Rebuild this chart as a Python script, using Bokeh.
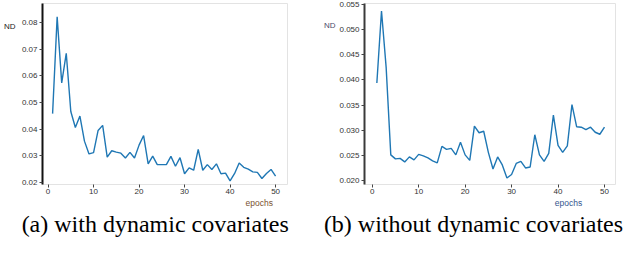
from bokeh.plotting import figure
from bokeh.layouts import row
from bokeh.models import (Range1d, FixedTicker, PrintfTickFormatter, LinearAxis,
                          ColumnDataSource)
from bokeh.embed import file_html
from bokeh.resources import INLINE

# ---------------- data ----------------
epochs = list(range(1, 51))
nd_with_dynamic = [
    0.0458, 0.0821, 0.0573, 0.0684, 0.0466, 0.0406, 0.0449, 0.0355, 0.0307, 0.0312,
    0.0395, 0.0414, 0.0295, 0.0319, 0.0314, 0.0310, 0.0292, 0.0313, 0.0292, 0.0340,
    0.0376, 0.0270, 0.0299, 0.0267, 0.0267, 0.0267, 0.0298, 0.0261, 0.0293, 0.0233,
    0.0255, 0.0246, 0.0324, 0.0246, 0.0267, 0.0249, 0.0270, 0.0233, 0.0235, 0.0206,
    0.0234, 0.0273, 0.0257, 0.0250, 0.0240, 0.0238, 0.0215, 0.0234, 0.0249, 0.0224,
]
nd_without_dynamic = [
    0.0394, 0.0537, 0.0425, 0.0251, 0.0243, 0.0244, 0.0237, 0.0247, 0.0241, 0.0252,
    0.0249, 0.0245, 0.0239, 0.0235, 0.0268, 0.0262, 0.0264, 0.0251, 0.0276, 0.0251,
    0.0240, 0.0308, 0.0295, 0.0298, 0.0256, 0.0223, 0.0247, 0.0231, 0.0205, 0.0212,
    0.0234, 0.0238, 0.0225, 0.0227, 0.0291, 0.0251, 0.0238, 0.0254, 0.0330, 0.0270,
    0.0256, 0.0269, 0.0351, 0.0307, 0.0306, 0.0301, 0.0306, 0.0296, 0.0292, 0.0306,
]
x_ticks = [0, 10, 20, 30, 40, 50]
y_ticks_a = [0.02, 0.03, 0.04, 0.05, 0.06, 0.07, 0.08]
y_ticks_b = [0.020, 0.025, 0.030, 0.035, 0.040, 0.045, 0.050, 0.055]
caption_a = "(a) with dynamic covariates"
caption_b = "(b) without dynamic covariates"
y_label = "ND"
x_label = "epochs"

LINE = "#1f77b4"
TICK_FONT = "Liberation Sans"
PLOT_H = 239
FRAME_T, FRAME_B = 3, 186    # both plot frames (a row shares them)


def text_axis(pos, text, font, size, color, standoff):
    """An axis that shows no line and no tick mark, only one text at a chosen place."""
    ax = LinearAxis(ticker=FixedTicker(ticks=[pos]), major_label_overrides={pos: text})
    ax.axis_line_color = None
    ax.major_tick_line_color = None
    ax.minor_tick_line_color = None
    ax.major_tick_out = 0
    ax.major_tick_in = 0
    ax.major_label_standoff = standoff
    ax.major_label_text_font = font
    ax.major_label_text_font_size = size
    ax.major_label_text_color = color
    return ax


def make_panel(x0, width, fl, fr, xr, yr, yticks, yfmt, spine_color,
               nd_y, nd_std, ep_x, ep_color, nd_color, cap_x, caption, values):
    p = figure(width=width, height=PLOT_H, output_backend="svg", toolbar_location=None,
               x_range=Range1d(*xr), y_range=Range1d(*yr),
               min_border_left=fl - x0, min_border_right=x0 + width - fr,
               min_border_top=FRAME_T, min_border_bottom=PLOT_H - FRAME_B)
    p.background_fill_color = "white"
    p.border_fill_color = "white"
    p.outline_line_color = "#e3e3e3"
    p.outline_line_width = 1
    p.xgrid.visible = False
    p.ygrid.visible = False

    src = ColumnDataSource(dict(x=epochs, y=values))
    p.line("x", "y", source=src, line_color=LINE, line_width=1.4)

    p.xaxis.ticker = FixedTicker(ticks=x_ticks)
    p.xaxis.axis_line_color = None
    p.xaxis.major_tick_line_color = "#444444"
    p.xaxis.major_tick_out = 3
    p.xaxis.major_tick_in = 0
    p.xaxis.minor_tick_line_color = None
    p.xaxis.major_label_text_font = TICK_FONT
    p.xaxis.major_label_text_font_size = "8px"
    p.xaxis.major_label_text_color = "#333333"
    p.xaxis.major_label_standoff = 1

    p.yaxis.ticker = FixedTicker(ticks=yticks)
    p.yaxis.formatter = PrintfTickFormatter(format=yfmt)
    p.yaxis.axis_line_color = spine_color
    p.yaxis.axis_line_width = 2
    p.yaxis.major_tick_line_color = "#444444"
    p.yaxis.major_tick_out = 3
    p.yaxis.major_tick_in = 0
    p.yaxis.minor_tick_line_color = None
    p.yaxis.major_label_text_font = TICK_FONT
    p.yaxis.major_label_text_font_size = "8px"
    p.yaxis.major_label_text_color = "#333333"
    p.yaxis.major_label_standoff = 2

    def dx(px):
        return round(xr[0] + (px - fl) / (fr - fl) * (xr[1] - xr[0]), 4)

    def dy(py):
        return round(yr[1] - (py - FRAME_T) / (FRAME_B - FRAME_T) * (yr[1] - yr[0]), 6)

    p.add_layout(text_axis(dy(nd_y), y_label, TICK_FONT, "8px", nd_color, nd_std), "left")
    p.add_layout(text_axis(dx(ep_x), x_label, TICK_FONT, "8.5px", ep_color, 1), "below")
    p.add_layout(text_axis(dx(cap_x), caption, "Liberation Serif", "24px", "black", 0),
                 "below")
    return p


p1 = make_panel(x0=0, width=314, fl=36, fr=287,
                xr=(-1.22, 52.62), yr=(0.01926, 0.08704),
                yticks=y_ticks_a, yfmt="%.2f", spine_color="#111111",
                nd_y=26.5, nd_std=3, ep_x=258, ep_color="#7a5230", nd_color="#222222",
                cap_x=151.5, caption=caption_a, values=nd_with_dynamic)

p2 = make_panel(x0=314, width=310, fl=364, fr=615,
                xr=(-1.66, 52.37), yr=(0.01921, 0.0552),
                yticks=y_ticks_b, yfmt="%.3f", spine_color="#3a3a3a",
                nd_y=25, nd_std=1, ep_x=568, ep_color="#35568f", nd_color="#4a4a6a",
                cap_x=473, caption=caption_b, values=nd_without_dynamic)

layout = row(p1, p2)
open("out.html", "w").write(file_html(layout, INLINE))
